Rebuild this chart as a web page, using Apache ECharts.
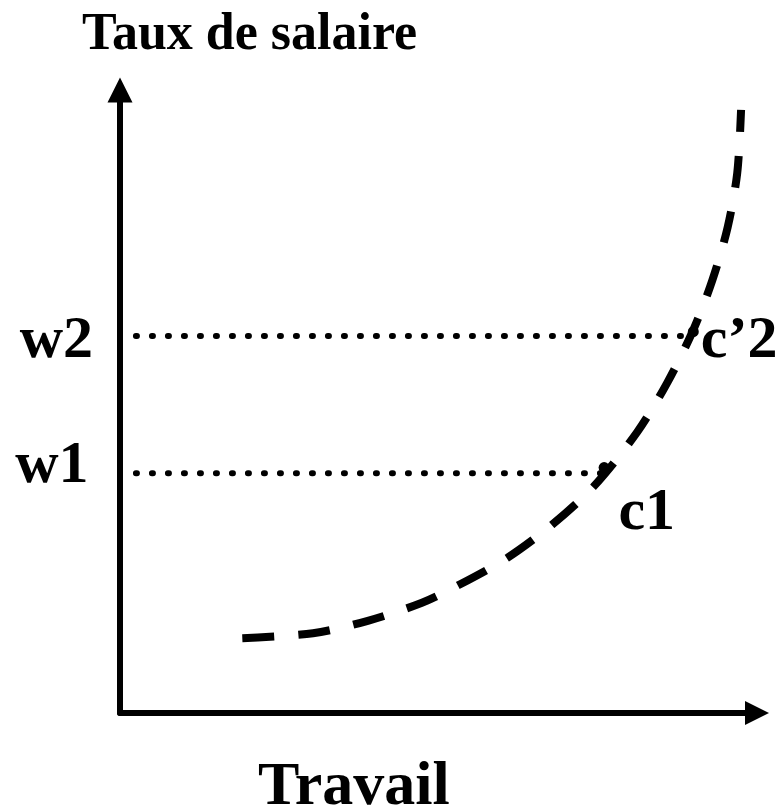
<!DOCTYPE html>
<html>
<head>
<meta charset="utf-8">
<script src="https://cdn.jsdelivr.net/npm/echarts@6/dist/echarts.min.js"></script>
<style>
    html, body { margin: 0; padding: 0; background: #fff; }
    #chart { width: 778px; height: 808px; }
</style>
</head>
<body>
<div id="chart"></div>
<script>
// data (schematic units, 0..100 on both axes)
var curveX = [19.2, 30.3, 38.9, 47.4, 53.1, 60.8, 67.8, 74.3, 81.2, 85.9, 90.0, 93.0, 95.4, 96.9, 97.5];
var curveY = [12.0, 12.8, 14.8, 17.7, 20.5, 24.9, 30.2, 36.3, 45.1, 53.0, 61.5, 69.5, 78.0, 86.7, 96.8];
var wageNames = ['w1', 'w2'];
var wageValues = [38.5, 60.5];
var wageStartX = 2.5;
var wageEndX = [75.6, 90.0];
var pointNames = ['c1', 'c\u20192'];
var pointX = [76.0, 90.0];
var pointY = [39.4, 61.2];
var labelX = [-10.7, -10.0, 82.7, 97.2];
var labelY = [39.6, 59.6, 32.1, 59.6];
var labelTexts = ['w1', 'w2', 'c1', 'c\u20192'];

(function () {
    var font = '"Liberation Serif", "Times New Roman", serif';
    var myChart = echarts.init(document.getElementById('chart'));

    var curveData = curveX.map(function (x, i) { return [x, curveY[i]]; });

    var wageSeries = wageValues.map(function (v, i) {
        return {
            name: wageNames[i],
            type: 'line',
            data: [[wageStartX, v], [wageEndX[i], v]],
            symbol: 'none',
            silent: true,
            lineStyle: {
                color: '#000',
                width: 6,
                type: [1, 15],
                cap: 'round',
            },
        };
    });

    var option = {
        animation: false,
        backgroundColor: '#fff',
        title: [{
            text: 'Taux de salaire',
            left: 82,
            top: 10,
            padding: 0,
            textStyle: {
                fontFamily: font,
                fontWeight: 'bold',
                fontSize: 52,
                lineHeight: 52,
                color: '#000',
            },
        }, {
            text: 'Travail',
            left: 258,
            top: 757,
            padding: 0,
            textStyle: {
                fontFamily: font,
                fontWeight: 'bold',
                fontSize: 62,
                lineHeight: 62,
                color: '#000',
            },
        }],
        grid: {
            left: 120,
            right: 21,
            top: 90,
            bottom: 95,
        },
        xAxis: {
            type: 'value',
            min: 0,
            max: 100,
            axisLine: {
                symbol: ['none', 'triangle'],
                symbolSize: [24, 24],
                lineStyle: { color: '#000', width: 6 },
            },
            axisTick: { show: false },
            axisLabel: { show: false },
            splitLine: { show: false },
        },
        yAxis: {
            type: 'value',
            min: 0,
            max: 100,
            axisLine: {
                show: true,
                symbol: ['none', 'triangle'],
                symbolSize: [25, 25],
                lineStyle: { color: '#000', width: 6 },
            },
            axisTick: { show: false },
            axisLabel: { show: false },
            splitLine: { show: false },
        },
        series: wageSeries.concat([{
            name: 'offre',
            type: 'line',
            data: curveData,
            smooth: 0.3,
            symbol: 'none',
            silent: true,
            lineStyle: {
                color: '#000',
                width: 8,
                type: [32, 24],
                cap: 'butt',
            },
        }, {
            name: 'points',
            type: 'scatter',
            data: pointX.map(function (x, i) { return { name: pointNames[i], value: [x, pointY[i]] }; }),
            symbol: 'circle',
            symbolSize: 11,
            itemStyle: { color: '#000', opacity: 1 },
            silent: true,
        }, {
            name: 'labels',
            type: 'scatter',
            clip: false,
            data: labelX.map(function (x, i) { return { name: labelTexts[i], value: [x, labelY[i]] }; }),
            symbolSize: 0,
            silent: true,
            itemStyle: { color: '#000', opacity: 1 },
            label: {
                show: true,
                position: 'inside',
                formatter: '{b}',
                fontFamily: font,
                fontWeight: 'bold',
                fontSize: 60,
                color: '#000',
            },
        }]),
    };

    myChart.setOption(option, true);
})();
</script>
</body>
</html>
